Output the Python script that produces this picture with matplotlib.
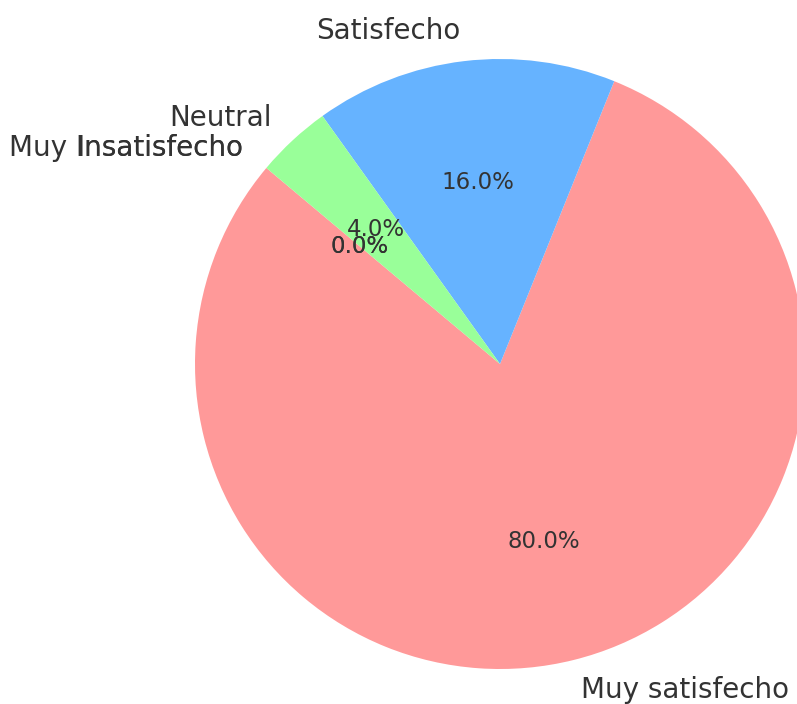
import matplotlib.pyplot as plt

# Data
labels = ['Muy satisfecho', 'Satisfecho', 'Neutral', 'Insatisfecho', 'Muy Insatisfecho']
values = [80, 16, 4, 0, 0]
colors = ['#ff9999', '#66b3ff', '#99ff99', '#ffcc99', '#c2c2f0']

fig = plt.figure(figsize=(7.97, 7.04), dpi=100)
ax = fig.add_axes([195 / 797, 35 / 704, 610 / 797, 610 / 704])

wedges, texts, autotexts = ax.pie(values, labels=labels, colors=colors,
                                  autopct='%1.1f%%', startangle=140,
                                  textprops={'color': '#333333'})
for t in texts:
    t.set_fontsize(20)
for t in autotexts:
    t.set_fontsize(16.5)

ax.set_aspect('equal', adjustable='box')
ax.set_xlim(-1, 1)
ax.set_ylim(-1, 1)

fig.savefig('out.png', dpi=100)
